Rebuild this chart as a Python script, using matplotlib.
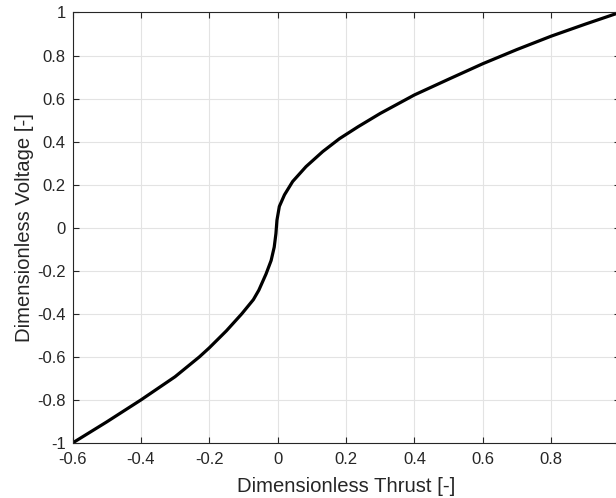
import matplotlib
matplotlib.use("Agg")
import matplotlib.pyplot as plt

# values (thrust vs voltage)
thrust = [-0.6, -0.5, -0.4, -0.3, -0.229, -0.2, -0.15, -0.105, -0.071, -0.055,
          -0.034, -0.019, -0.010, -0.005, -0.002, 0.005, 0.020, 0.044, 0.083,
          0.132, 0.181, 0.235, 0.3, 0.4, 0.5, 0.6, 0.7, 0.8, 0.9, 1.0]
voltage = [-1.0, -0.902, -0.8, -0.692, -0.6, -0.558, -0.479, -0.4, -0.334, -0.290,
           -0.215, -0.152, -0.090, -0.027, 0.035, 0.099, 0.153, 0.215, 0.284,
           0.354, 0.414, 0.469, 0.531, 0.617, 0.690, 0.762, 0.828, 0.890, 0.946, 1.0]

xticks = [-0.6, -0.4, -0.2, 0, 0.2, 0.4, 0.6, 0.8]
xticklabels = ["-0.6", "-0.4", "-0.2", "0", "0.2", "0.4", "0.6", "0.8"]
yticks = [-1, -0.8, -0.6, -0.4, -0.2, 0, 0.2, 0.4, 0.6, 0.8, 1]
yticklabels = ["-1", "-0.8", "-0.6", "-0.4", "-0.2", "0", "0.2", "0.4", "0.6", "0.8", "1"]

plt.rcParams['font.family'] = ['Liberation Sans', 'DejaVu Sans']
plt.rcParams['axes.unicode_minus'] = False

fig = plt.figure(figsize=(6.16, 4.98), dpi=100)
ax = fig.add_axes([0.1177, 0.1104, 0.8880, 0.8645])

ax.plot(thrust, voltage, color='black', linewidth=2.3,
        solid_joinstyle='round', solid_capstyle='round')

ax.set_xlim(-0.6, 1.0)
ax.set_ylim(-1, 1)
ax.set_xticks(xticks)
ax.set_xticklabels(xticklabels)
ax.set_yticks(yticks)
ax.set_yticklabels(yticklabels)
ax.tick_params(direction='in', top=True, right=True, length=4.5, width=0.8,
               color='#262626', labelsize=12, labelcolor='#262626')
ax.tick_params(axis='x', pad=6.5)
ax.tick_params(axis='y', pad=5)
ax.grid(True, color='#e3e3e3', linewidth=0.8)
ax.set_axisbelow(True)
for s in ax.spines.values():
    s.set_color('#262626')
    s.set_linewidth(0.8)

ax.set_xlabel('Dimensionless Thrust [-]', fontsize=14.6, color='#262626', labelpad=7)
ax.set_ylabel('Dimensionless Voltage [-]', fontsize=14.6, color='#262626', labelpad=2)

fig.savefig('out.png', dpi=100)
